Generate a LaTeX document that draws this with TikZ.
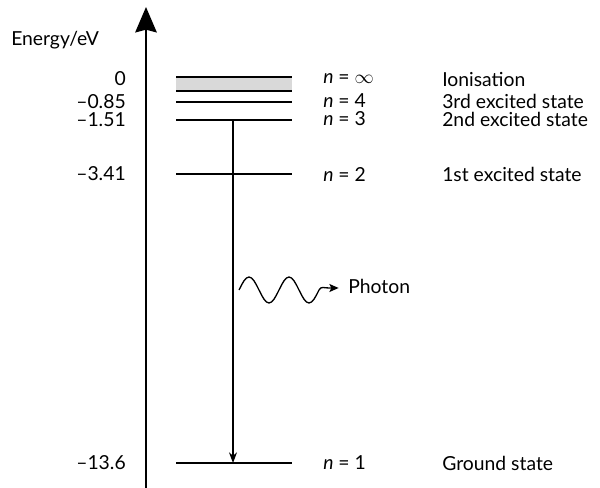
\documentclass[tikz,border=0pt]{standalone}
\usepackage{fontspec}
\setmainfont{Lato}
\usetikzlibrary{arrows.meta, positioning}

\begin{document}
\begin{tikzpicture}[x=0.75pt, y=-0.75pt, font=\fontsize{14.5}{17}\selectfont,
  level/.style={line width=1.5pt},
  value/.style={anchor=east, inner sep=0pt},
  qnum/.style={anchor=west, inner sep=0pt},
  state/.style={anchor=west, inner sep=0pt}]
\useasboundingbox (0,0) rectangle (600,488);

% energy axis
\coordinate (axisbot) at (146,488);
\coordinate (axistop) at (146,7);
\draw [-{Stealth[length=19pt, width=16pt, inset=2pt]}, line width=2.2pt] (axisbot) -- (axistop);
\node (axislabel) [anchor=base west, inner sep=0pt] at (11,46) {Energy/eV};

% ionisation band
\fill [gray!30] (176,77) rectangle (292,91);

% energy levels
\foreach \name/\y in {inf/77, cont/91, four/102, three/120, two/174, one/463} {
  \coordinate (\name L) at (176,\y);
  \coordinate (\name R) at (292,\y);
  \draw [level] (\name L) -- (\name R);
}

% energy values
\node (v0) [value] at (126,79) {0};
\node (v4) [value] at (126,101.5) {–0.85};
\node (v3) [value] at (126,119.5) {–1.51};
\node (v2) [value] at (126,174) {–3.41};
\node (v1) [value] at (126,463) {–13.6};

% quantum numbers
\node (ninf) [qnum] at (323,79) {\textit{n} = $\infty$};
\node (n4) [qnum] at (323,101) {\textit{n} = 4};
\node (n3) [qnum] at (323,119) {\textit{n} = 3};
\node (n2) [qnum] at (323,174) {\textit{n} = 2};
\node (n1) [qnum] at (323,463) {\textit{n} = 1};

% states
\node (sinf) [state] at (442,79) {Ionisation};
\node (s4) [state] at (442,101) {3rd excited state};
\node (s3) [state] at (442,119) {2nd excited state};
\node (s2) [state] at (442,174) {1st excited state};
\node (s1) [state] at (442,463) {Ground state};

% transition
\coordinate (jumptop) at (233,120);
\coordinate (jumpbot) at (233,463);
\draw [-{Stealth[length=8pt, width=6pt]}, line width=0.8pt] (jumptop) -- (jumpbot);

% photon
\node (photon) [anchor=base west, inner sep=0pt] at (348,294) {Photon};
\coordinate (wavestart) at (239,290);
\draw [-{Stealth[length=7pt, width=6pt, inset=1.5pt]}, line width=1pt, shorten >=7pt]
  (wavestart) sin (249,277) cos (259,290) sin (269,303) cos (279,290)
  sin (289,277) cos (299,290) sin (309,303) cos (319,290)
  .. controls (321,286) and (324,288) .. (329,288) -- (photon.west |- 0,288);
\end{tikzpicture}
\end{document}
